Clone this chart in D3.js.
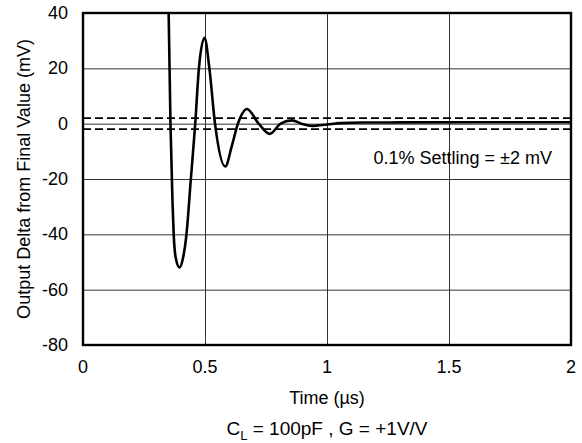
<!DOCTYPE html>
<html>
<head>
<meta charset="utf-8">
<script src="https://cdn.jsdelivr.net/npm/d3@7"></script>
<style>
body{margin:0;background:#fff;}
text{font-family:"Liberation Sans",Arial,sans-serif;fill:#000;}
</style>
</head>
<body>
<div id="chart"></div>
<script>
var width=582,height=443,
    margin={left:83,top:13,right:11,bottom:98};

// data
var xTicks=[0,0.5,1,1.5,2];
var xTickLabels=["0","0.5","1","1.5","2"];
var yTicks=[-80,-60,-40,-20,0,20,40];
var timeUs=[0.340,0.351,0.3585,0.3667,0.3717,0.380,0.3955,0.410,0.424,0.442,0.460,0.475,0.498,0.518,0.541,0.583,0.610,0.635,0.672,0.720,0.765,0.810,0.857,0.895,0.940,1.000,1.055,1.150,1.300,1.600,2.000];
var deltaMv=[130,40,0,-28,-40,-48.5,-52,-48.5,-40,-20,0,20,31,20,0,-15.5,-8,0,5.3,0,-3.7,0,1.2,0,-0.8,-0.3,0.2,0.4,0.45,0.5,0.5];
var settleBand=[2,-2];

var g_width=width-margin.left-margin.right,
    g_height=height-margin.top-margin.bottom;

var svg=d3.select('#chart')
    .append('svg')
    .attr('width',width)
    .attr('height',height);

var scale_x=d3.scaleLinear().domain([0,2]).range([0,g_width]);
var scale_y=d3.scaleLinear().domain([-80,40]).range([g_height,0]);

var g=svg.append('g')
    .attr('transform','translate('+margin.left+','+margin.top+')');

// grid
g.append('g')
  .attr('transform','translate(0,'+g_height+')')
  .call(d3.axisBottom(scale_x).tickValues(xTicks).tickSize(-g_height).tickFormat(''))
  .call(function(a){a.select('.domain').remove();a.selectAll('line').attr('stroke','#333').attr('stroke-width',1);});
g.append('g')
  .call(d3.axisLeft(scale_y).tickValues(yTicks).tickSize(-g_width).tickFormat(''))
  .call(function(a){a.select('.domain').remove();a.selectAll('line').attr('stroke','#333').attr('stroke-width',1);});

// tick labels
g.selectAll('.xl').data(xTicks).enter().append('text')
  .attr('x',function(d){return scale_x(d);})
  .attr('y',g_height+28)
  .attr('text-anchor','middle')
  .style('font-size','18px')
  .text(function(d,i){return xTickLabels[i];});
g.selectAll('.yl').data(yTicks).enter().append('text')
  .attr('x',-15)
  .attr('y',function(d){return scale_y(d)+6;})
  .attr('text-anchor','end')
  .style('font-size','18px')
  .text(function(d){return d;});

// settling band
g.selectAll('.band').data(settleBand).enter().append('line')
  .attr('x1',0).attr('x2',g_width)
  .attr('y1',function(d){return scale_y(d);})
  .attr('y2',function(d){return scale_y(d);})
  .attr('stroke','#000').attr('stroke-width',1.8)
  .attr('stroke-dasharray','8,4');

// curve
g.append('clipPath').attr('id','clip')
  .append('rect').attr('width',g_width).attr('height',g_height);
var pts=timeUs.map(function(t,i){return [t,deltaMv[i]];});
g.append('path')
  .datum(pts)
  .attr('clip-path','url(#clip)')
  .attr('fill','none')
  .attr('stroke','#000')
  .attr('stroke-width',2.6)
  .attr('d',d3.line()
     .x(function(d){return scale_x(d[0]);})
     .y(function(d){return scale_y(d[1]);})
     .curve(d3.curveMonotoneX));

// frame
g.append('rect')
  .attr('width',g_width).attr('height',g_height)
  .attr('fill','none').attr('stroke','#000').attr('stroke-width',2.4);

// annotation
g.append('text')
  .attr('x',g_width-19).attr('y',151)
  .attr('text-anchor','end')
  .style('font-size','18px')
  .text('0.1% Settling = \u00b12 mV');

// axis titles
svg.append('text')
  .attr('transform','translate(30,'+(margin.top+g_height/2)+') rotate(-90)')
  .attr('text-anchor','middle')
  .style('font-size','18px')
  .text('Output Delta from Final Value (mV)');
svg.append('text')
  .attr('x',margin.left+g_width/2).attr('y',404)
  .attr('text-anchor','middle')
  .style('font-size','18px')
  .text('Time (\u00b5s)');
var sub=svg.append('text')
  .attr('x',margin.left+g_width/2).attr('y',435)
  .attr('text-anchor','middle')
  .style('font-size','19px');
sub.append('tspan').text('C');
sub.append('tspan').attr('dy',5).style('font-size','13px').text('L');
sub.append('tspan').attr('dy',-5).text(' = 100pF , G = +1V/V');
</script>
</body>
</html>
